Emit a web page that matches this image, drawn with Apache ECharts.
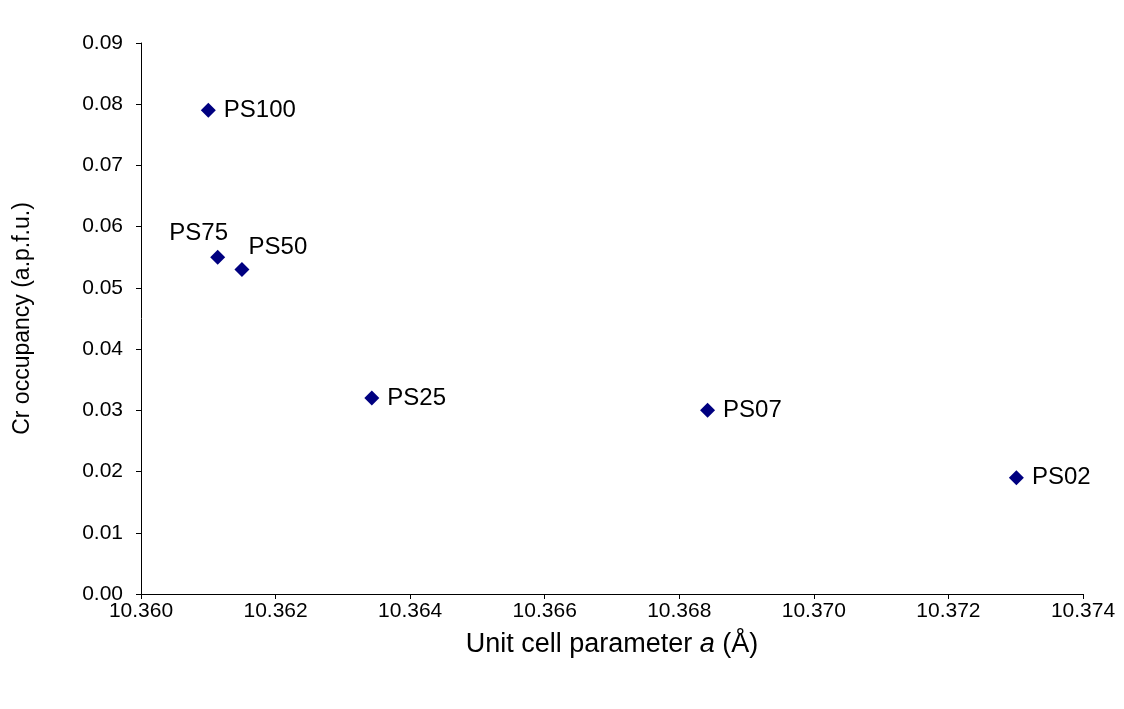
<!DOCTYPE html>
<html>
<head>
<meta charset="utf-8">
<script src="https://cdn.jsdelivr.net/npm/echarts@6/dist/echarts.min.js"></script>
<style>html,body{margin:0;padding:0;background:#fff;}#c{width:1124px;height:709px;}</style>
</head>
<body>
<div id="c"></div>
<script>
const sampleNames = ['PS100', 'PS75', 'PS50', 'PS25', 'PS07', 'PS02'];
const cellParamA = [10.3610, 10.36114, 10.3615, 10.36343, 10.36842, 10.37301];
const crOccupancy = [0.079, 0.055, 0.053, 0.032, 0.030, 0.019];

const labelPlacement = {
  PS75: { position: 'top', offset: [-19, 4] },
  PS50: { position: 'top', offset: [36, 5] }
};

const chart = echarts.init(document.getElementById('c'));
const data = sampleNames.map((n, i) => {
  const item = { name: n, value: [cellParamA[i], crOccupancy[i]] };
  if (labelPlacement[n]) item.label = labelPlacement[n];
  return item;
});
const font = 'Liberation Sans, Arial, sans-serif';
chart.setOption({
  backgroundColor: '#fff',
  animation: false,
  grid: { left: 141, right: 41, top: 43, bottom: 115 },
  xAxis: {
    type: 'value', min: 10.360, max: 10.374, interval: 0.002,
    name: '{n|Unit cell parameter }{i|a}{n| (Å)}',
    nameLocation: 'middle', nameGap: 37,
    nameTextStyle: { rich: {
      n: { fontFamily: font, fontSize: 27, color: '#000' },
      i: { fontFamily: font, fontSize: 27, color: '#000', fontStyle: 'italic' }
    } },
    axisLine: { lineStyle: { color: '#000', width: 1 } },
    axisTick: { show: true, length: 5, inside: false, lineStyle: { color: '#000' } },
    axisLabel: { fontFamily: font, fontSize: 21, color: '#000', margin: 7, formatter: v => v.toFixed(3) },
    splitLine: { show: false }
  },
  yAxis: {
    type: 'value', min: 0, max: 0.09, interval: 0.01,
    name: 'Cr occupancy (a.p.f.u.)',
    nameLocation: 'middle', nameGap: 107,
    nameTextStyle: { fontFamily: font, fontSize: 23, color: '#000' },
    axisLine: { show: true, lineStyle: { color: '#000', width: 1 } },
    axisTick: { show: true, length: 5, lineStyle: { color: '#000' } },
    axisLabel: { fontFamily: font, fontSize: 21, color: '#000', margin: 18, formatter: v => v.toFixed(2) },
    splitLine: { show: false }
  },
  series: [{
    type: 'scatter',
    symbol: 'diamond',
    symbolSize: 15,
    itemStyle: { color: '#000080', opacity: 1 },
    label: {
      show: true, position: 'right', distance: 8,
      formatter: p => p.name,
      fontFamily: font, fontSize: 24, color: '#000', textBorderWidth: 0
    },
    emphasis: { disabled: true },
    data: data
  }]
});
</script>
</body>
</html>
